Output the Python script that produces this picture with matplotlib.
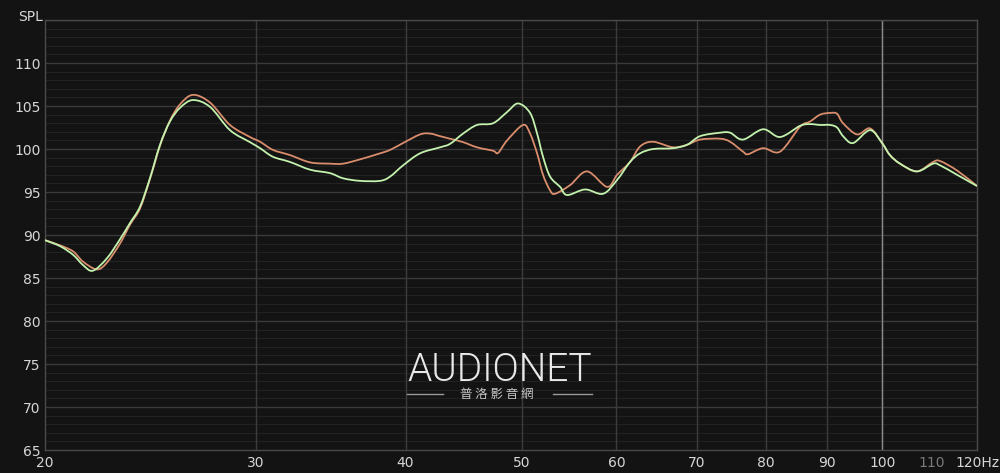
import matplotlib
matplotlib.use('Agg')
import numpy as np
import matplotlib.pyplot as plt
from matplotlib.lines import Line2D
from matplotlib.path import Path
from matplotlib.patches import PathPatch
from matplotlib.ticker import FixedLocator, NullFormatter

# frequency response
green_f = [20.0, 20.59, 21.11, 21.52, 21.93, 22.53, 23.10, 23.55, 24.01, 24.47, 24.95, 25.43,
           25.93, 26.58, 27.47, 28.54, 29.66, 30.24, 31.0, 32.03, 33.29, 34.59, 35.47, 36.65,
           38.09, 38.83, 39.81, 41.13, 42.74, 43.57, 44.68, 45.89, 47.33, 48.62, 49.66, 50.82,
           51.51, 52.10, 52.81, 53.84, 54.57, 56.49, 58.48, 60.07, 61.59, 62.79, 64.37, 66.90,
           68.73, 70.47, 73.23, 74.65, 76.53, 79.54, 82.18, 85.40, 87.06, 88.75, 90.47, 91.70,
           92.76, 94.57, 97.70, 99.98, 101.5, 103.5, 106.9, 110.3, 111.8, 115.5, 120.0]
green_db = [89.4, 88.7, 87.7, 86.5, 85.85, 87.3, 89.5, 91.4, 93.3, 96.6, 100.5, 103.2,
            104.8, 105.7, 104.9, 102.2, 100.8, 100.1, 99.1, 98.5, 97.6, 97.2, 96.6, 96.3,
            96.3, 96.8, 98.1, 99.5, 100.2, 100.6, 101.8, 102.8, 103.0, 104.3, 105.3, 104.2,
            101.8, 99.1, 96.8, 95.6, 94.65, 95.3, 94.8, 96.4, 98.5, 99.5, 100.0, 100.1,
            100.5, 101.5, 101.9, 101.9, 101.1, 102.3, 101.4, 102.7, 102.9, 102.8, 102.8, 102.5,
            101.5, 100.7, 102.2, 100.7, 99.3, 98.3, 97.4, 98.3, 98.1, 97.0, 95.7]

orange_f = [20.0, 20.59, 21.11, 21.52, 22.10, 22.53, 23.10, 23.55, 24.01, 24.47, 24.95, 25.43,
            25.93, 26.58, 27.47, 28.54, 29.66, 30.24, 31.0, 32.03, 33.29, 34.59, 35.47, 36.65,
            38.09, 38.83, 39.81, 41.13, 41.93, 42.74, 43.57, 44.68, 45.89, 47.33, 47.79, 48.62,
            50.14, 50.82, 51.51, 52.10, 52.81, 53.32, 54.88, 56.70, 58.93, 60.07, 61.59, 62.79,
            64.37, 66.90, 68.73, 70.47, 73.23, 74.65, 76.53, 77.27, 79.54, 82.18, 85.40, 87.06,
            88.75, 90.47, 91.70, 92.76, 95.29, 97.70, 99.98, 101.5, 103.5, 106.9, 110.3, 111.8,
            115.5, 120.0]
orange_db = [89.4, 88.8, 88.1, 86.9, 86.0, 86.8, 89.0, 91.2, 93.1, 96.5, 100.4, 103.3,
             105.2, 106.3, 105.4, 102.8, 101.4, 100.85, 99.9, 99.3, 98.45, 98.3, 98.3, 98.8,
             99.5, 99.9, 100.7, 101.7, 101.8, 101.5, 101.2, 100.8, 100.2, 99.8, 99.55, 101.0,
             102.8, 101.8, 99.5, 97.0, 95.2, 94.8, 95.8, 97.4, 95.6, 97.0, 98.5, 100.3,
             100.85, 100.2, 100.5, 101.1, 101.2, 100.85, 99.7, 99.4, 100.1, 99.7, 102.6, 103.2,
             104.0, 104.2, 104.1, 103.0, 101.7, 102.4, 100.7, 99.3, 98.3, 97.4, 98.5, 98.6,
             97.5, 95.7]

x_ticks = [20, 30, 40, 50, 60, 70, 80, 90, 100, 110, 120]
x_labels = ['20', '30', '40', '50', '60', '70', '80', '90', '100', '110', '120Hz']
y_ticks = [65, 70, 75, 80, 85, 90, 95, 100, 105, 110]

bg = '#131313'
txt = '#d6d6d6'


def smooth_path(f, db):
    # Catmull-Rom through the points, drawn as cubic Beziers (log-x space)
    x = np.log10(f)
    y = np.asarray(db, float)
    n = len(x)
    verts = [(f[0], y[0])]
    codes = [Path.MOVETO]
    for i in range(n - 1):
        i0, i2, i3 = max(i - 1, 0), i + 1, min(i + 2, n - 1)
        c1 = (x[i] + (x[i2] - x[i0]) / 6, y[i] + (y[i2] - y[i0]) / 6)
        c2 = (x[i2] - (x[i3] - x[i]) / 6, y[i2] - (y[i3] - y[i]) / 6)
        verts += [(10 ** c1[0], c1[1]), (10 ** c2[0], c2[1]), (f[i2], y[i2])]
        codes += [Path.CURVE4] * 3
    return Path(verts, codes)


fig = plt.figure(figsize=(10, 4.73), dpi=100, facecolor=bg)
ax = fig.add_axes((0.045, 0.0486, 0.932, 0.909), facecolor=bg)
ax.set_xscale('log')
ax.set_xlim(20, 120)
ax.set_ylim(65, 115)

# grid: 1 dB minor, 5 dB major
for v in range(66, 115):
    if v % 5:
        ax.axhline(v, color='#222222', lw=0.8, zorder=0)
for v in range(70, 116, 5):
    ax.axhline(v, color='#3a3a3a', lw=1.0, zorder=0)
for f in x_ticks[1:-2]:
    ax.axvline(f, color='#3c3c3c', lw=1.0, zorder=0)
ax.axvline(100, color='#8a8a8a', lw=1.0, zorder=0)

ax.add_patch(PathPatch(smooth_path(orange_f, orange_db), fill=False,
                       edgecolor='#d98d6c', lw=1.3, zorder=3))
ax.add_patch(PathPatch(smooth_path(green_f, green_db), fill=False,
                       edgecolor='#c2f2ad', lw=1.3, zorder=4))

ax.xaxis.set_minor_formatter(NullFormatter())
ax.xaxis.set_minor_locator(FixedLocator([]))
ax.set_xticks(x_ticks)
ax.set_xticklabels(x_labels)
ax.set_yticks(y_ticks)
ax.set_yticklabels([str(v) for v in y_ticks])
ax.tick_params(length=0, colors=txt, labelsize=10, pad=3)
ax.tick_params(axis='x', pad=4)
ax.get_xticklabels()[9].set_color('#7a7a7a')

for s in ['left', 'bottom', 'right', 'top']:
    ax.spines[s].set_color('#4a4a4a')
    ax.spines[s].set_linewidth(1.0)

fig.text(0.018, 0.965, 'SPL', color=txt, fontsize=10, ha='left', va='center')

# watermark
fig.text(0.4995, 0.218, 'AUDIONET', color='#e8e8e8', fontsize=28,
         family=['Roboto', 'DejaVu Sans'], fontweight=300, ha='center', va='center')
fig.text(0.497, 0.167, '普 洛 影 音 網', color='#c8c8c8', fontsize=9,
         family=['Noto Sans CJK TC', 'DejaVu Sans'], ha='center', va='center')
fig.add_artist(Line2D([0.407, 0.443], [0.168, 0.168], color='#9a9a9a', lw=1.0))
fig.add_artist(Line2D([0.553, 0.592], [0.168, 0.168], color='#9a9a9a', lw=1.0))

fig.savefig('out.png', dpi=100, facecolor=bg)
